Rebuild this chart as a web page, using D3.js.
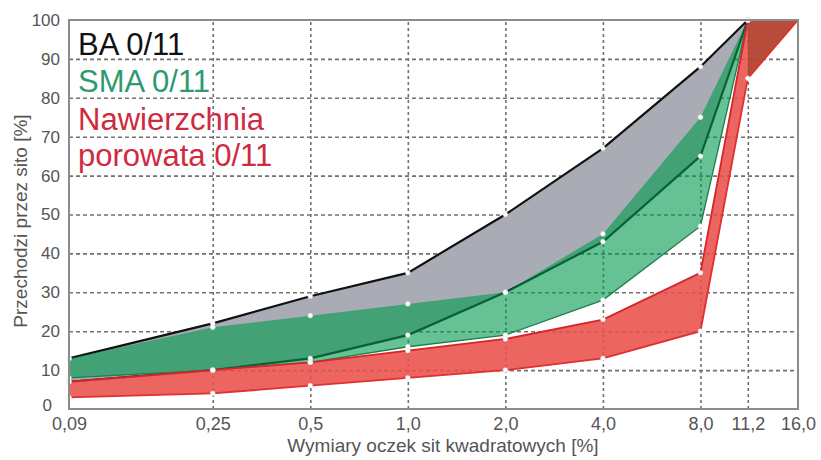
<!DOCTYPE html>
<html><head><meta charset="utf-8">
<script src="https://cdn.jsdelivr.net/npm/d3@7"></script>
<style>body{margin:0;background:#fff;} svg{display:block;font-family:"Liberation Sans",Arial,sans-serif;}</style>
</head><body><svg id="c" width="821" height="460"></svg>
<script>
// Sieve sizes (mm) and their labels
const sieves = [0.09, 0.25, 0.5, 1.0, 2.0, 4.0, 8.0, 11.2, 16.0];
const sieveLabels = ["0,09", "0,25", "0,5", "1,0", "2,0", "4,0", "8,0", "11,2", "16,0"];
const yTicks = [0, 10, 20, 30, 40, 50, 60, 70, 80, 90, 100];
// BA 0/11 grading envelope
const baUpper = [13, 22, 29, 35, 50, 67, 88, 100, 100];
const baLower = [7, 10, 13, 19, 30, 43, 65, 100, 100];
// SMA 0/11 grading envelope
const smaUpper = [13, 21, 24, 27, 30, 45, 75, 100, 100];
const smaLower = [8, 10, 12, 16, 19, 28, 47, 100, 100];
// Nawierzchnia porowata 0/11 grading envelope
const porUpper = [7, 10, 12, 15, 18, 23, 35, 100, 100];
const porLower = [3, 4, 6, 8, 10, 13, 20, 85, 100];
const legendLabels = ["BA 0/11", "SMA 0/11", "Nawierzchnia", "porowata 0/11"];

const svg = d3.select("#c");
const L = 69, R = 798, T = 20, B = 409;
const x = d3.scaleLog().domain([0.09, 16]).range([L, R]);
const y = d3.scaleLinear().domain([0, 100]).range([B, T]);

// grid
const gy = svg.append("g").attr("transform", `translate(${L},0)`)
  .call(d3.axisLeft(y).tickValues(yTicks.filter(d => d > 0 && d < 100)).tickSize(-(R - L)).tickFormat(""));
gy.select(".domain").remove();
gy.selectAll("line").attr("stroke", "#707070").attr("stroke-width", 1.6).attr("stroke-dasharray", "4,3");
const gx = svg.append("g").attr("transform", `translate(0,${B})`)
  .call(d3.axisBottom(x).tickValues(sieves.slice(1, -1)).tickSize(-(B - T)).tickFormat(""));
gx.select(".domain").remove();
gx.selectAll("line").attr("stroke", "#707070").attr("stroke-width", 1.6).attr("stroke-dasharray", "3,3");

const idx = sieves.map((d, i) => i);
const band = (lo, hi) => d3.area().x(i => x(sieves[i])).y0(i => y(lo[i])).y1(i => y(hi[i]));
const line = arr => d3.line().x(i => x(sieves[i])).y(i => y(arr[i]));

// BA band
svg.append("path").attr("d", band(baLower, baUpper)(idx)).attr("fill", "#a9acb5");
svg.append("path").attr("d", line(baUpper)(idx)).attr("fill", "none").attr("stroke", "#111").attr("stroke-width", 2.2);
svg.append("path").attr("d", line(baLower)(idx)).attr("fill", "none").attr("stroke", "#111").attr("stroke-width", 2.2);

// SMA band
svg.append("path").attr("d", band(smaLower, smaUpper)(idx)).attr("fill", "rgb(0,153,77)").attr("fill-opacity", 0.6);
svg.append("path").attr("d", line(smaLower)(idx)).attr("fill", "none").attr("stroke", "#1e7d4e").attr("stroke-width", 1.3);

// Porous asphalt band
svg.append("path").attr("d", band(porLower, porUpper)(idx)).attr("fill", "#e9504b").attr("fill-opacity", 0.88);
const tail = idx.slice(-2);
svg.append("path").attr("d", band(porLower, porUpper)(tail)).attr("fill", "#7a2e0d").attr("fill-opacity", 0.45);
svg.append("path").attr("d", line(porUpper)(idx)).attr("fill", "none").attr("stroke", "#d3262a").attr("stroke-width", 1.8);
svg.append("path").attr("d", line(porLower)(idx)).attr("fill", "none").attr("stroke", "#e0302f").attr("stroke-width", 1.8);

// markers
[baUpper, baLower, smaUpper, smaLower, porUpper, porLower].forEach(arr => {
  svg.append("g").selectAll("circle").data(idx.slice(0, -1)).join("circle")
    .attr("cx", i => x(sieves[i])).attr("cy", i => y(arr[i])).attr("r", 2.4)
    .attr("fill", "#fff").attr("stroke", "#ddd").attr("stroke-width", 0.5);
});

// frame
svg.append("rect").attr("x", L).attr("y", T).attr("width", R - L).attr("height", B - T)
  .attr("fill", "none").attr("stroke", "#8c8c8c").attr("stroke-width", 2);

// axes labels
const ay = svg.append("g").attr("transform", `translate(${L},0)`)
  .call(d3.axisLeft(y).tickValues(yTicks).tickSize(0).tickPadding(9).tickFormat(d3.format("d")));
ay.select(".domain").remove();
ay.selectAll("text").attr("fill", "#555").style("font-size", "17px").style("font-family", "Liberation Sans, Arial, sans-serif");
ay.selectAll(".tick").filter(d => d === 0).select("text").attr("x", -17).attr("dy", "0.1em");
const ax = svg.append("g").attr("transform", `translate(0,${B})`)
  .call(d3.axisBottom(x).tickValues(sieves).tickSize(0).tickPadding(8).tickFormat((d, i) => sieveLabels[i]));
ax.select(".domain").remove();
ax.selectAll("text").attr("fill", "#555").style("font-size", "18px").style("font-family", "Liberation Sans, Arial, sans-serif");

svg.append("text").attr("x", 443).attr("y", 452).attr("text-anchor", "middle")
  .attr("fill", "#555").style("font-size", "19px").text("Wymiary oczek sit kwadratowych [%]");
svg.append("text").attr("transform", "translate(27,221) rotate(-90)").attr("text-anchor", "middle")
  .attr("fill", "#555").style("font-size", "19px").text("Przechodzi przez sito [%]");

// legend
const legColors = ["#111", "#2e9a6e", "#cf2a3e", "#cf2a3e"];
const legY = [55, 92, 130, 166];
legendLabels.forEach((t, i) => {
  svg.append("text").attr("x", 78).attr("y", legY[i]).attr("fill", legColors[i])
    .style("font-size", "31px").text(t);
});
</script></body></html>
